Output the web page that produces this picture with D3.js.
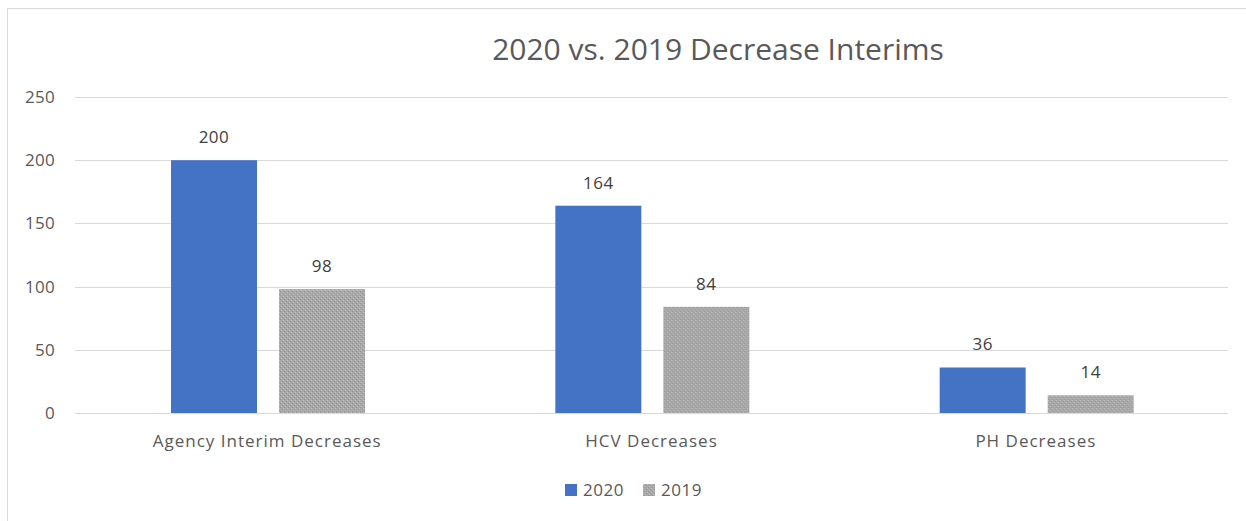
<!DOCTYPE html>
<html>
<head>
<meta charset="utf-8">
<script src="https://cdn.jsdelivr.net/npm/d3@7"></script>
<style>
  body { margin: 0; background: #fff; }
  svg text { font-family: "Open Sans", "Liberation Sans", sans-serif; }
</style>
</head>
<body>
<div id="chart"></div>
<script>
// data
var categories = ["Agency Interim Decreases", "HCV Decreases", "PH Decreases"];
var series = ["2020", "2019"];
var values2020 = [200, 164, 36];
var values2019 = [98, 84, 14];
var yTicks = [0, 50, 100, 150, 200, 250];

var width = 1246, height = 521;
var margin = { top: 97, right: 18, bottom: 108, left: 75 };

var svg = d3.select("#chart").append("svg")
    .attr("width", width)
    .attr("height", height);

// textured fill for the 2019 bars
var defs = svg.append("defs");
var pat = defs.append("pattern")
    .attr("id", "grayDots")
    .attr("width", 4).attr("height", 4)
    .attr("patternUnits", "userSpaceOnUse");
pat.append("rect").attr("width", 4).attr("height", 4).attr("fill", "#a8a8a8");
pat.append("rect").attr("x", 0).attr("y", 0).attr("width", 1).attr("height", 1).attr("fill", "#c0c0c0");
pat.append("rect").attr("x", 2).attr("y", 2).attr("width", 1).attr("height", 1).attr("fill", "#c0c0c0");
pat.append("rect").attr("x", 1).attr("y", 3).attr("width", 1).attr("height", 1).attr("fill", "#969696");
pat.append("rect").attr("x", 3).attr("y", 1).attr("width", 1).attr("height", 1).attr("fill", "#969696");

var colors = { "2020": "#4472c4", "2019": "url(#grayDots)" };

// chart frame
svg.append("rect")
    .attr("x", 7.5).attr("y", 8.5)
    .attr("width", width).attr("height", height)
    .attr("fill", "none")
    .attr("stroke", "#d9d9d9");

var x0 = d3.scaleBand()
    .domain(categories)
    .range([margin.left, width - margin.right])
    .padding(0);

// the two bars sit in the middle of each category band
var x1 = d3.scaleBand()
    .domain(series)
    .range([96, 290])
    .paddingInner(0.204)
    .paddingOuter(0);

var y = d3.scaleLinear()
    .domain([0, 250])
    .range([height - margin.bottom, margin.top]);

// gridlines
svg.append("g")
    .selectAll("line")
    .data(yTicks)
    .enter()
    .append("line")
    .attr("x1", margin.left)
    .attr("x2", width - margin.right)
    .attr("y1", function (d) { return Math.round(y(d)) + 0.5; })
    .attr("y2", function (d) { return Math.round(y(d)) + 0.5; })
    .attr("stroke", "#d9d9d9")
    .attr("stroke-width", 1);

// y axis labels
var yAxis = d3.axisLeft(y).tickValues(yTicks).tickSize(0).tickPadding(0);
var yg = svg.append("g")
    .attr("transform", "translate(" + 55 + ",0)")
    .call(yAxis);
yg.select(".domain").remove();
yg.selectAll("text")
    .attr("fill", "#595959")
    .attr("font-size", "17px")
    .attr("letter-spacing", "0.3px");

// x axis labels
var xAxis = d3.axisBottom(x0).tickSize(0).tickPadding(0);
var xg = svg.append("g")
    .attr("transform", "translate(0," + y(0) + ")")
    .call(xAxis);
xg.select(".domain").remove();
xg.selectAll("text")
    .attr("y", 34)
    .attr("dy", null)
    .attr("fill", "#595959")
    .attr("font-size", "17px")
    .attr("letter-spacing", "1px");

// bars
var rows = categories.map(function (c, i) {
    return { cat: c, vals: [{ s: "2020", v: values2020[i] }, { s: "2019", v: values2019[i] }] };
});

var groups = svg.selectAll("g.cat")
    .data(rows)
    .enter()
    .append("g")
    .attr("class", "cat")
    .attr("transform", function (d) { return "translate(" + x0(d.cat) + ",0)"; });

groups.selectAll("rect")
    .data(function (d) { return d.vals; })
    .enter()
    .append("rect")
    .attr("x", function (d) { return x1(d.s); })
    .attr("width", x1.bandwidth())
    .attr("y", function (d) { return y(d.v); })
    .attr("height", function (d) { return y(0) - y(d.v); })
    .attr("fill", function (d) { return colors[d.s]; });

groups.selectAll("text.lbl")
    .data(function (d) { return d.vals; })
    .enter()
    .append("text")
    .attr("class", "lbl")
    .attr("x", function (d) { return x1(d.s) + x1.bandwidth() / 2; })
    .attr("y", function (d) { return y(d.v) - 17; })
    .attr("text-anchor", "middle")
    .attr("fill", "#404040")
    .attr("font-size", "17px")
    .attr("letter-spacing", "0.5px")
    .text(function (d) { return d.v; });

// title
svg.append("text")
    .attr("x", 718)
    .attr("y", 60)
    .attr("text-anchor", "middle")
    .attr("fill", "#595959")
    .attr("font-size", "30px")
    .text("2020 vs. 2019 Decrease Interims");

// legend
var legend = svg.append("g").attr("transform", "translate(565,484)");
var li = legend.selectAll("g")
    .data(series)
    .enter()
    .append("g")
    .attr("transform", function (d, i) { return "translate(" + (i * 78) + ",0)"; });
li.append("rect")
    .attr("width", 12).attr("height", 12)
    .attr("fill", function (d) { return colors[d]; });
li.append("text")
    .attr("x", 18)
    .attr("y", 12)
    .attr("fill", "#595959")
    .attr("font-size", "17px")
    .attr("letter-spacing", "0.5px")
    .text(function (d) { return d; });
</script>
</body>
</html>
